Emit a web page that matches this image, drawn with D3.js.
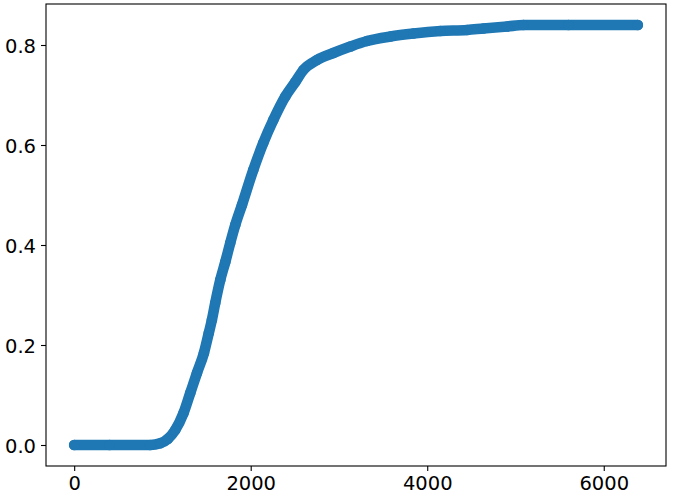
<!DOCTYPE html>
<html>
<head>
<meta charset="utf-8">
<script src="https://cdn.jsdelivr.net/npm/d3@7"></script>
<style>
  body { margin: 0; background: #fff; }
</style>
</head>
<body>
<script>
// values (curve centre)
var xValues = [0, 400, 861, 975, 1060, 1145, 1239, 1315, 1391, 1470, 1525, 1560, 1598, 1655, 1712, 1768, 1825, 1901,
               2029, 2142, 2256, 2392, 2505, 2596, 2751, 2936, 3129, 3318, 3582, 3843, 4149, 4451, 4636,
               4905, 5090, 5600, 6386];
var yValues = [0, 0, 0, 0.0034, 0.012, 0.030, 0.064, 0.104, 0.144, 0.184, 0.224, 0.250, 0.284, 0.330, 0.366, 0.404, 0.440, 0.480,
               0.550, 0.604, 0.650, 0.697, 0.726, 0.750, 0.770, 0.784, 0.797, 0.808, 0.817, 0.823, 0.828, 0.830, 0.833,
               0.837, 0.840, 0.840, 0.840];
var xTicks = [0, 2000, 4000, 6000];
var yTicks = [0, 0.2, 0.4, 0.6, 0.8];

var width = 674, height = 498;
var margin = {left: 46, top: 4, right: 8, bottom: 32};

var svg = d3.select('body').append('svg')
    .attr('width', width)
    .attr('height', height);

// matplotlib style 5% margins around the data
var xMax = d3.max(xValues), yMax = d3.max(yValues);
var x = d3.scaleLinear()
    .domain([-0.05 * xMax, 1.05 * xMax])
    .range([margin.left, width - margin.right]);
var y = d3.scaleLinear()
    .domain([-0.05 * yMax, 1.05 * yMax])
    .range([height - margin.bottom, margin.top]);

var pts = xValues.map(function(v, i){ return [v, yValues[i]]; });

// the scatter is so dense it reads as a thick band, so draw it as one
var band = d3.line()
    .x(function(d){ return x(d[0]); })
    .y(function(d){ return y(d[1]); })
    .curve(d3.curveMonotoneX);

svg.append('path')
    .datum(pts)
    .attr('d', band)
    .attr('fill', 'none')
    .attr('stroke', '#1f77b4')
    .attr('stroke-width', 10.6)
    .attr('stroke-linecap', 'round')
    .attr('stroke-linejoin', 'round');

svg.selectAll('circle.pt').data(pts).enter().append('circle')
    .classed('pt', true)
    .attr('cx', function(d){ return x(d[0]); })
    .attr('cy', function(d){ return y(d[1]); })
    .attr('r', 5.3)
    .attr('fill', '#1f77b4');

// axes
var xAxis = svg.append('g')
    .attr('transform', `translate(0, ${height - margin.bottom})`)
    .call(d3.axisBottom(x).tickValues(xTicks).tickFormat(d3.format('d')).tickSize(5).tickPadding(5));
var yAxis = svg.append('g')
    .attr('transform', `translate(${margin.left}, 0)`)
    .call(d3.axisLeft(y).tickValues(yTicks).tickFormat(d3.format('.1f')).tickSize(5).tickPadding(5));

[xAxis, yAxis].forEach(function(a){
    a.attr('font-family', '"DejaVu Sans", sans-serif').attr('font-size', 19.5);
    a.select('.domain').remove();
    a.selectAll('.tick line').attr('stroke', '#000').attr('stroke-width', 1.1);
    a.selectAll('.tick text').attr('fill', '#000');
});
yAxis.selectAll('.tick text').attr('dy', '0.36em');

// frame
svg.append('rect')
    .attr('x', margin.left)
    .attr('y', margin.top)
    .attr('width', width - margin.left - margin.right)
    .attr('height', height - margin.top - margin.bottom)
    .attr('fill', 'none')
    .attr('stroke', '#000')
    .attr('stroke-width', 1.1);
</script>
</body>
</html>
